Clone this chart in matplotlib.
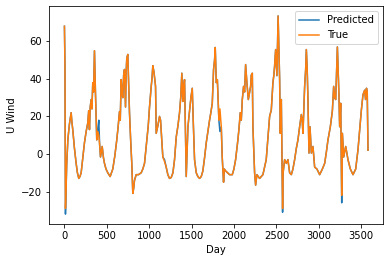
import matplotlib
matplotlib.use('Agg')
import matplotlib.pyplot as plt
import numpy as np

# day index and wind values
days = [0, 6, 12, 27, 41, 59, 79, 88, 98, 118, 138, 153, 169, 183, 197, 216, 236, 256, 275, 286,
        295, 304, 315, 324, 334, 344, 354, 366, 381, 392, 405, 415, 425, 445, 460, 472, 490, 511, 539, 570,
        594, 617, 634, 649, 658, 669, 678, 688, 698, 708, 720, 728, 735, 747, 757, 767, 782, 794, 806, 817,
        826, 846, 873, 905, 924, 944, 971, 988, 1003, 1023, 1032, 1042, 1054, 1062, 1074, 1082, 1101, 1121, 1133, 1141,
        1151, 1160, 1180, 1200, 1219, 1239, 1259, 1279, 1298, 1318, 1338, 1357, 1371, 1384, 1396, 1406, 1416, 1428, 1436, 1446,
        1456, 1475, 1491, 1507, 1516, 1526, 1534, 1554, 1573, 1593, 1613, 1632, 1652, 1672, 1691, 1711, 1726, 1743, 1758, 1770,
        1778, 1790, 1803, 1821, 1833, 1849, 1860, 1876, 1885, 1900, 1923, 1947, 1979, 1998, 2018, 2045, 2059, 2073, 2085, 2097,
        2112, 2124, 2136, 2151, 2168, 2183, 2195, 2203, 2215, 2222, 2232, 2242, 2254, 2269, 2301, 2340, 2379, 2398, 2419, 2439,
        2448, 2458, 2469, 2478, 2490, 2505, 2519, 2531, 2537, 2545, 2557, 2572, 2578, 2596, 2616, 2635, 2655, 2675, 2694, 2714,
        2734, 2753, 2773, 2793, 2803, 2812, 2823, 2832, 2844, 2852, 2862, 2871, 2883, 2895, 2911, 2930, 2950, 2977, 3009, 3041,
        3068, 3088, 3107, 3135, 3159, 3174, 3186, 3198, 3210, 3218, 3227, 3236, 3245, 3257, 3269, 3277, 3292, 3316, 3343, 3371,
        3402, 3434, 3461, 3481, 3501, 3520, 3540, 3550, 3561, 3570, 3579]

true_vals = [68, 46, -29, -5, 8, 16, 22, 17, 13, 3, -5, -10, -13, -12, -10, -2, 6, 12, 16.5, 23,
             13, 25, 29, 24, 38, 33, 55, 32, 7.5, 12, 10, 5, -1.6, 4, -2, -5, -8, -10, -12, -8,
             -1, 7.5, 15, 22.6, 18, 39.6, 33, 30, 42, 45, 25, 44, 51, 53, 38, 22, 6, -5, -21, -18,
             -14, -11, -11, -10, -8, -5, 7.5, 15, 25, 36, 40, 47, 44, 41, 36, 11, 15, 20, 18, 12,
             4, -1.6, -4, -7, -11, -13, -12.5, -10, -3, 9, 15, 22, 30, 43, 28, 36, 39.6, 7.5, -12, 2,
             14.5, 23, 30, 35, 21, 8, -3, -10, -12, -13, -12, -9, -2, 6, 12, 18, 22, 27, 45, 50,
             56.7, 38, 39.6, 18, 24, 14.5, -1.6, -15, -8, -9, -10, -11, -11, -8, -3, 7.5, 14, 22, 18, 29,
             36, 33, 47.6, 38, 29, 33, 36, 42, 43, 14.5, 3, -10, -16.6, -11, -13, -11, -3, 8, 20, 23.5,
             30, 38, 42, 47, 55.6, 41.7, 73.5, 52, 40, 11, 29, -29, -10, -3, -5, -3, -10, -11, -8, -3,
             3, 7.5, 14.5, 21, 18, 11, 25, 36, 45, 55.6, 45, 29, 0.5, 14.5, 0.5, 4, -7, -8, -11, -8,
             -5, 1, 7.5, 14.5, 23, 36, 30, 29, 45, 57, 45, 32, 14.5, 27, -22, 11, -1.6, 4, -3, -8,
             -11, -8, 2.3, 13, 23.5, 31.6, 34, 29, 35, 33, 2]

# places where the predicted line pokes out from under the true one
pred_diff_days = [6, 12, 405, 1180, 1833, 2572, 3269]
pred_diff_vals = [48, -32, 18, -3, 12, -31, -26]

pred_vals = list(true_vals)
for d, v in zip(pred_diff_days, pred_diff_vals):
    pred_vals[days.index(d)] = v

fig = plt.figure(figsize=(391 / 72, 262 / 72), dpi=72)
ax = fig.add_axes([0.126, 0.145, 0.854, 0.832])
ax.plot(days, pred_vals, label='Predicted')
ax.plot(days, true_vals, label='True')
ax.set_xlabel('Day')
ax.set_ylabel('U Wind')
ax.legend(loc='upper right')

fig.savefig('out.png', dpi=72)
